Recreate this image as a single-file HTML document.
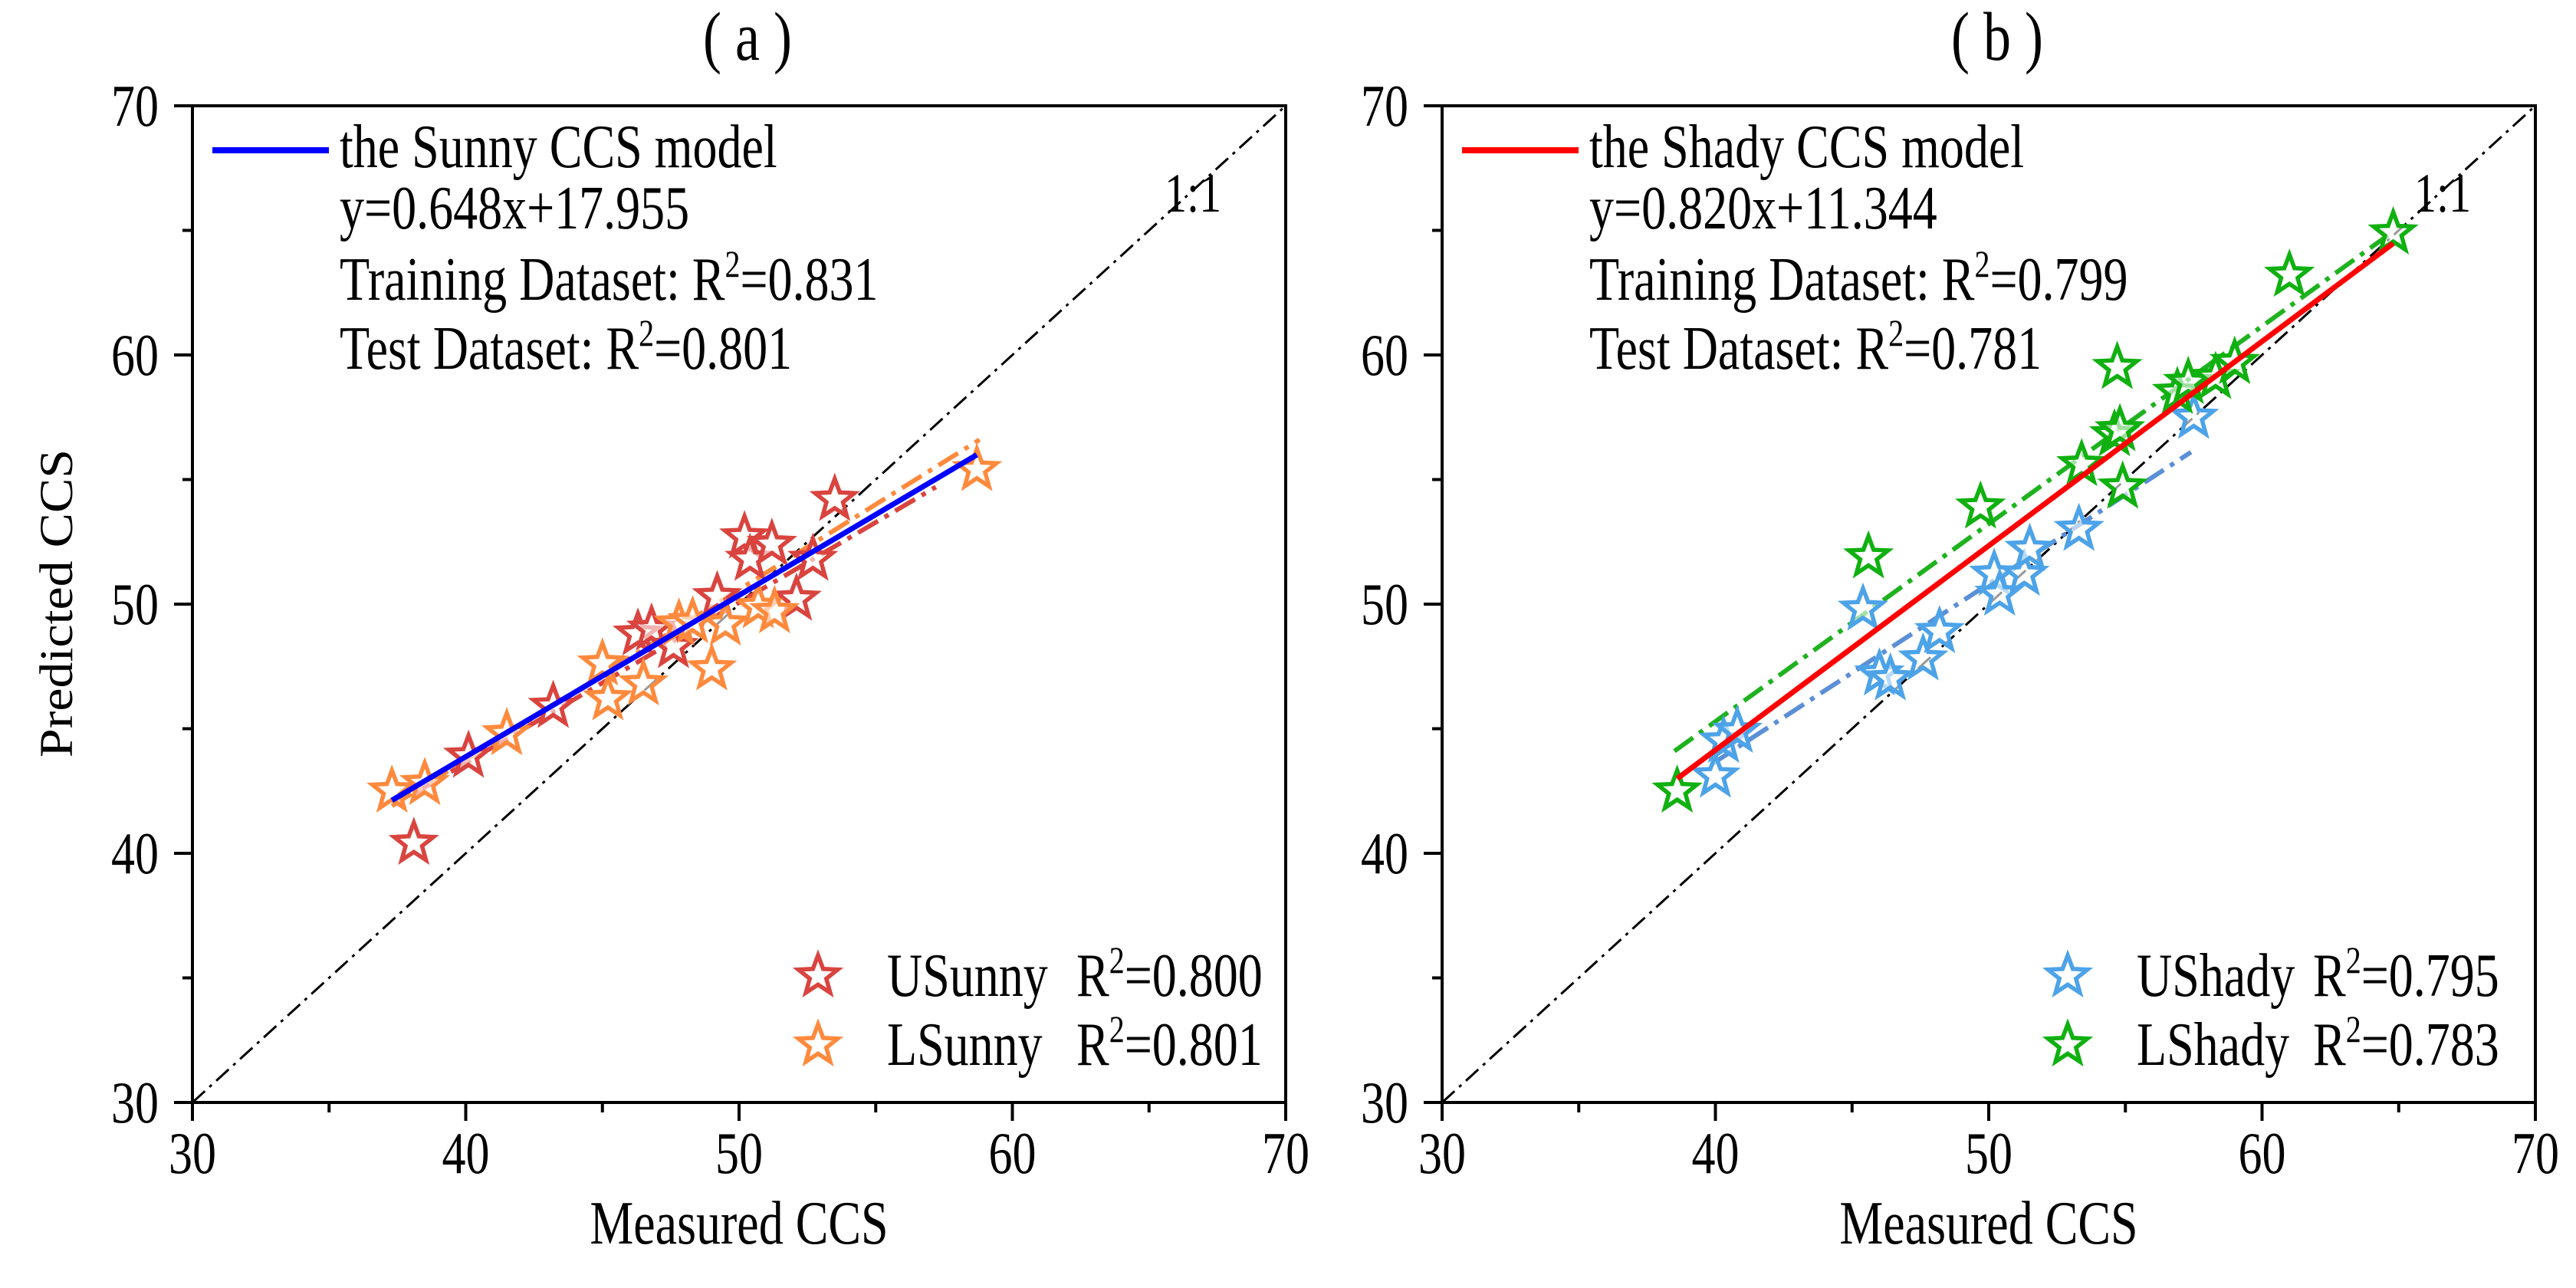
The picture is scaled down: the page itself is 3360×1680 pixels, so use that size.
<!DOCTYPE html>
<html><head><meta charset="utf-8">
<style>
html,body{margin:0;padding:0;background:#fff;}
svg{display:block;font-family:"Liberation Serif","Times New Roman",serif;}
</style></head>
<body>
<svg id="fig" width="3360" height="1680" viewBox="0 0 3360 1680" xmlns="http://www.w3.org/2000/svg">
<g id="panelA"></g>
<g id="panelB"></g>
</svg>
<script>
// ---- data ----
const ticks = [30, 40, 50, 60, 70];
const minorTicks = [35, 45, 55, 65];
const uSunnyX = [38.1, 40.1, 43.2, 46.3, 46.8, 47.6, 49.2, 50.2, 50.4, 51.2, 52.1, 52.7, 53.5];
const uSunnyY = [40.4, 43.9, 45.9, 48.8, 49.0, 48.3, 50.3, 52.7, 51.8, 52.4, 50.2, 51.8, 54.2];
const lSunnyX = [37.3, 38.5, 41.5, 45.0, 45.2, 46.5, 47.8, 48.3, 49.0, 49.5, 50.7, 51.3, 58.7];
const lSunnyY = [42.5, 42.8, 44.8, 47.6, 46.2, 46.8, 49.2, 49.3, 47.4, 49.2, 49.9, 49.7, 55.4];
const uShadyX = [40.0, 40.3, 40.8, 45.4, 46.0, 46.4, 47.6, 48.2, 50.2, 50.4, 51.3, 51.5, 53.3, 57.5];
const uShadyY = [43.1, 44.5, 44.9, 49.8, 47.2, 47.0, 47.8, 48.9, 51.2, 50.4, 51.2, 52.2, 53.0, 57.5];
const lShadyX = [38.6, 45.6, 49.7, 53.4, 54.6, 54.8, 54.7, 54.9, 56.9, 57.3, 58.3, 59.0, 61.0, 64.8];
const lShadyY = [42.5, 51.9, 53.9, 55.6, 56.8, 57.0, 59.5, 54.7, 58.5, 58.9, 59.1, 59.7, 63.2, 64.9];
const sunnyModel = [0.648, 17.955]; const sunnyRange = [37.3, 58.7];
const shadyModel = [0.820, 11.344]; const shadyRange = [38.6, 64.8];
const uSunnyFitX = [38.1, 57.2]; const uSunnyFitY = [42.4, 54.7];
const lSunnyFitX = [37.3, 58.8]; const lSunnyFitY = [41.9, 56.6];
const uShadyFitX = [39.9, 57.4]; const uShadyFitY = [43.6, 56.1];
const lShadyFitX = [38.5, 64.6]; const lShadyFitY = [44.1, 64.8];

const NS = "http://www.w3.org/2000/svg";
function mk(parent, tag, attrs, text){
  const e = document.createElementNS(NS, tag);
  for (const k in attrs) e.setAttribute(k, attrs[k]);
  if (text !== undefined) e.textContent = text;
  parent.appendChild(e); return e;
}
function txt(parent, x, y, size, anchor, html){
  const e = mk(parent, "text", {x: 0, y: 0, "font-size": (size*1.25).toFixed(1), "text-anchor": anchor || "start",
    transform: "translate(" + x + "," + y + ") scale(0.8,1)"});
  e.innerHTML = html;
  return e;
}
function starPath(cx, cy, R){
  const r = R*0.42; let d = "";
  for (let i=0;i<10;i++){
    const a = -Math.PI/2 + i*Math.PI/5; const rr = i%2===0?R:r;
    d += (i===0?"M":"L") + (cx+rr*Math.cos(a)).toFixed(1) + "," + (cy+rr*Math.sin(a)).toFixed(1);
  }
  return d + "Z";
}
const SUP = v => 'R<tspan dy="-30" font-size="50">2</tspan><tspan dy="30">=' + v + '</tspan>';

function panel(g, cfg){
  const X0 = cfg.x0, X1 = cfg.x0 + 1426, Y0 = 138, Y1 = 1438;
  const sx = v => X0 + (v-30)/40*(X1-X0);
  const sy = v => Y1 - (v-30)/40*(Y1-Y0);

  const t = txt(g, cfg.titleX, 78, 72, "middle", cfg.title);
  
  

  const one = mk(g, "line", {x1: sx(30), y1: sy(30), x2: sx(70), y2: sy(70), stroke: "#000", "stroke-width": 3, "stroke-dasharray": "22 8 4 8"});
  
  
  const oneT = txt(g, X0 + 1268, 276, 58, "start", "1:1");
  
  

  cfg.fits.forEach(f => {
    const l = mk(g, "line", {x1: sx(f.x[0]), y1: sy(f.y[0]), x2: sx(f.x[1]), y2: sy(f.y[1]), stroke: f.color, "stroke-width": 6, "stroke-dasharray": "30 10 6 10"});
    
    
  });

  cfg.series.forEach(s => {
    const sg = mk(g, "g", {});
    
    
    s.x.forEach((xv, i) => {
      const p = mk(sg, "path", {d: starPath(sx(xv), sy(s.y[i]), 27), fill: "#fff", "fill-opacity": 0.6, stroke: s.color, "stroke-width": 5.5, "stroke-linejoin": "miter"});
      
      
    });
  });

  const m = cfg.model, r = cfg.range;
  const ml = mk(g, "line", {x1: sx(r[0]), y1: sy(m[0]*r[0]+m[1]), x2: sx(r[1]), y2: sy(m[0]*r[1]+m[1]), stroke: cfg.modelColor, "stroke-width": 7});
  
  

  const fr = mk(g, "rect", {x: X0, y: Y0, width: X1-X0, height: Y1-Y0, fill: "none", stroke: "#000", "stroke-width": 4});
  
  

  ticks.forEach(v => {
    const a = mk(g, "line", {x1: sx(v), y1: Y1, x2: sx(v), y2: Y1+24, stroke: "#000", "stroke-width": 4});
    
    
    const b = mk(g, "line", {x1: X0, y1: sy(v), x2: X0-24, y2: sy(v), stroke: "#000", "stroke-width": 4});
    
    
    const xl = txt(g, sx(v), 1530, 62, "middle", String(v));
    
    
    const yl = txt(g, X0-44, sy(v)+26, 62, "end", String(v));
    
    
  });
  minorTicks.forEach(v => {
    const a = mk(g, "line", {x1: sx(v), y1: Y1, x2: sx(v), y2: Y1+13, stroke: "#000", "stroke-width": 4});
    
    
    const b = mk(g, "line", {x1: X0, y1: sy(v), x2: X0-13, y2: sy(v), stroke: "#000", "stroke-width": 4});
    
    
  });

  const xt = txt(g, (X0+X1)/2, 1622, 64, "middle", "Measured CCS");
  
  

  const lg = mk(g, "g", {});
  
  
  mk(lg, "line", {x1: X0+26, y1: 196, x2: X0+178, y2: 196, stroke: cfg.modelColor, "stroke-width": 8});
  const tx = X0 + 192;
  txt(lg, tx, 218, 64, "start", cfg.modelName);
  txt(lg, tx, 298, 64, "start", cfg.eq);
  txt(lg, tx, 391, 64, "start", 'Training Dataset: ' + SUP(cfg.train));
  txt(lg, tx, 481, 64, "start", 'Test Dataset: ' + SUP(cfg.test));

  cfg.series.forEach((s, i) => {
    const eg = mk(g, "g", {});
    
    
    const cy = 1273 + i*90;
    mk(eg, "path", {d: starPath(X0+816, cy, 27), fill: "#fff", stroke: s.color, "stroke-width": 5.5});
    txt(eg, X0+906, cy+26, 64, "start", s.label);
    txt(eg, X0+cfg.rX, cy+26, 64, "start", SUP(s.r2));
  });
}

panel(document.getElementById("panelA"), {
  x0: 251, title: "( a )", titleX: 975, model: sunnyModel, range: sunnyRange, modelColor: "#0000ff",
  modelName: "the Sunny CCS model", eq: "y=0.648x+17.955", train: "0.831", test: "0.801", rX: 1153,
  fits: [
    {x: uSunnyFitX, y: uSunnyFitY, color: "#d9443f", name: "usunny-fit-line"},
    {x: lSunnyFitX, y: lSunnyFitY, color: "#ff8a3d", name: "lsunny-fit-line"}
  ],
  series: [
    {x: uSunnyX, y: uSunnyY, color: "#d9443f", name: "usunny-points", label: "USunny", r2: "0.800"},
    {x: lSunnyX, y: lSunnyY, color: "#ff8a3d", name: "lsunny-points", label: "LSunny", r2: "0.801"}
  ]
});
panel(document.getElementById("panelB"), {
  x0: 1881, title: "( b )", titleX: 2605, model: shadyModel, range: shadyRange, modelColor: "#ff0000",
  modelName: "the Shady CCS model", eq: "y=0.820x+11.344", train: "0.799", test: "0.781", rX: 1136,
  fits: [
    {x: uShadyFitX, y: uShadyFitY, color: "#5b8fd6", name: "ushady-fit-line"},
    {x: lShadyFitX, y: lShadyFitY, color: "#1fb21f", name: "lshady-fit-line"}
  ],
  series: [
    {x: uShadyX, y: uShadyY, color: "#4da3e8", name: "ushady-points", label: "UShady", r2: "0.795"},
    {x: lShadyX, y: lShadyY, color: "#10b010", name: "lshady-points", label: "LShady", r2: "0.783"}
  ]
});

const svg = document.getElementById("fig");
const yt = mk(svg, "text", {x: 0, y: 0, "font-size": 68, "text-anchor": "middle", transform: "translate(94,787) rotate(-90) scale(1,0.9)"}, "Predicted CCS");


</script>
</body></html>
